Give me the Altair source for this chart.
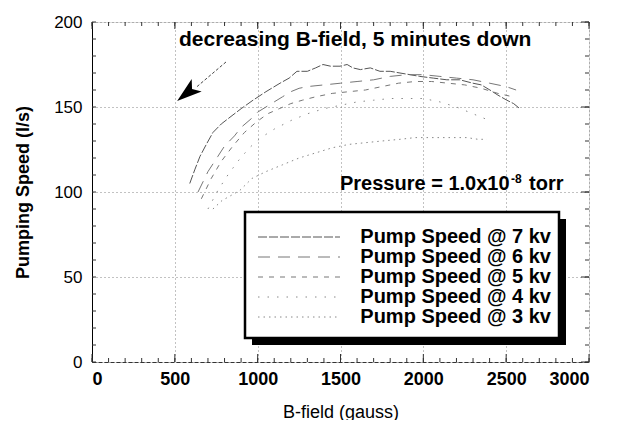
import altair as alt
import pandas as pd

FONT = "Liberation Sans"

series_names = ["Pump Speed @ 7 kv", "Pump Speed @ 6 kv", "Pump Speed @ 5 kv",
                "Pump Speed @ 4 kv", "Pump Speed @ 3 kv"]

B7 = [590, 620, 652, 690, 730, 780, 833, 900, 972, 1050, 1135, 1190, 1237, 1300, 1350, 1394,
      1440, 1497, 1540, 1575, 1620, 1680, 1738, 1800, 1859, 1920, 1979, 2060, 2142, 2220,
      2299, 2350, 2402, 2450, 2504, 2545, 2583]
S7 = [105, 113, 121, 128, 135, 140, 144, 149, 154, 159, 164, 167, 171, 171, 173, 175,
      174, 174, 175, 173, 172, 173, 171, 171, 170, 169, 168, 167, 166, 166,
      164, 163, 160, 157, 154, 152, 149]

B6 = [640, 700, 760, 800, 860, 900, 960, 1000, 1050, 1100, 1150, 1200, 1250, 1300, 1400,
      1500, 1600, 1700, 1800, 1900, 2000, 2100, 2200, 2300, 2400, 2500, 2560]
S6 = [100, 112, 121, 127, 133, 138, 143, 147, 150, 153, 156, 159, 161, 162, 163,
      164, 165, 166, 168, 169, 169, 168, 167, 166, 164, 162, 160]

B5 = [660, 720, 780, 850, 920, 990, 1060, 1130, 1200, 1270, 1350, 1450, 1550, 1650, 1750,
      1850, 1950, 2050, 2150, 2250, 2350, 2450, 2540]
S5 = [96, 108, 118, 127, 135, 141, 146, 149, 152, 154, 156, 158, 159, 160, 162,
      164, 165, 165, 164, 163, 161, 158, 156]

B4 = [700, 760, 820, 880, 950, 1020, 1100, 1200, 1300, 1400, 1500, 1600, 1700, 1800, 1900,
      2000, 2100, 2200, 2300, 2400]
S4 = [90, 101, 110, 118, 126, 132, 137, 142, 146, 149, 151, 153, 154, 155, 155,
      155, 153, 150, 146, 142]

B3 = [730, 785, 840, 893, 966, 1050, 1150, 1250, 1350, 1450, 1550, 1650, 1750, 1860, 1950,
      2020, 2100, 2200, 2263, 2330, 2384]
S3 = [90, 95, 98, 101, 108, 112, 116, 120, 123, 126, 128, 129, 130, 131, 132,
      132, 132, 132, 132, 131, 131]

x_major = [0, 500, 1000, 1500, 2000, 2500, 3000]
y_major = [0, 50, 100, 150, 200]
x_minor = list(range(0, 3001, 100))
y_minor = list(range(0, 201, 10))

arrow_B = [809, 634]
arrow_S = [176.5, 162]
arrow_head_B = [576]
arrow_head_S = [158.4]

dashes = [[9, 2], [12, 8], [5, 6], [1.5, 8], [1.5, 4]]
colors = ["#555555", "#777777", "#777777", "#888888", "#888888"]

rows = []
for name, bs, ss in zip(series_names, [B7, B6, B5, B4, B3], [S7, S6, S5, S4, S3]):
    for i, (b, s) in enumerate(zip(bs, ss)):
        rows.append({"series": name, "B": b, "S": s, "order": i})
df = pd.DataFrame(rows)

W, H = 497, 340

xscale = alt.Scale(domain=[0, 3000], nice=False, zero=False)
yscale = alt.Scale(domain=[0, 200], nice=False, zero=False)
dash_scale = alt.Scale(domain=series_names, range=dashes)
color_scale = alt.Scale(domain=series_names, range=colors)

xaxis = alt.Axis(values=x_major, format="d", ticks=False, grid=True, gridDash=[1, 3],
                 gridColor="#666", gridOpacity=0.8, labelFont=FONT, labelFontSize=18,
                 labelFontWeight="bold", labelColor="black", labelPadding=8,
                 domainColor="#333", domainDash=[4, 2],
                 title="B-field (gauss)", titleFont=FONT, titleFontSize=18,
                 titleFontWeight="normal", titleColor="black", titleY=50,
                 titleBaseline="middle")
yaxis = alt.Axis(values=y_major, format="d", ticks=False, grid=True, gridDash=[1, 3],
                 gridColor="#666", gridOpacity=0.8, labelFont=FONT, labelFontSize=17,
                 labelFontWeight="normal", labelColor="black", labelPadding=10,
                 domainColor="black",
                 title="Pumping Speed (l/s)", titleFont=FONT, titleFontSize=18,
                 titleFontWeight="bold", titleColor="black", titleX=-69, titleY=170,
                 titleAngle=270, titleAlign="center", titleBaseline="middle")

X = alt.X("B:Q", scale=xscale, axis=xaxis)
Y = alt.Y("S:Q", scale=yscale, axis=yaxis)
Yn = alt.Y("S:Q", scale=yscale, axis=None)

lines = alt.Chart(df).mark_line(strokeWidth=1).encode(
    x=X, y=Y,
    strokeDash=alt.StrokeDash("series:N", scale=dash_scale, legend=None),
    color=alt.Color("series:N", scale=color_scale, legend=None),
    order="order:Q",
)

xm = pd.DataFrame({"B": x_minor})
ym = pd.DataFrame({"S": y_minor})
xM = pd.DataFrame({"B": x_major})
yM = pd.DataFrame({"S": y_major})

tick_color = "#333"
t_bottom = alt.Chart(xm).mark_rule(color=tick_color).encode(x=X, y=alt.value(H), y2=alt.value(H - 4))
t_bottom_M = alt.Chart(xM).mark_rule(color=tick_color).encode(x=X, y=alt.value(H), y2=alt.value(H - 8))
t_top = alt.Chart(xm).mark_rule(color=tick_color).encode(x=X, y=alt.value(0), y2=alt.value(4))
t_top_M = alt.Chart(xM).mark_rule(color=tick_color).encode(x=X, y=alt.value(0), y2=alt.value(7))
t_left = alt.Chart(ym).mark_rule(color=tick_color).encode(y=Yn, x=alt.value(0), x2=alt.value(4))
t_right = alt.Chart(ym).mark_rule(color=tick_color).encode(y=Yn, x=alt.value(W), x2=alt.value(W - 4))
t_right_M = alt.Chart(yM).mark_rule(color=tick_color).encode(y=Yn, x=alt.value(W), x2=alt.value(W - 8))

one = pd.DataFrame({"a": [0]})
shadow = alt.Chart(one).mark_rect(color="black").encode(
    x=alt.value(160), x2=alt.value(474), y=alt.value(197), y2=alt.value(323))
box = alt.Chart(one).mark_rect(fill="white", stroke="black", strokeWidth=2.5).encode(
    x=alt.value(153), x2=alt.value(467), y=alt.value(190), y2=alt.value(316))

leg_df = pd.DataFrame({"series": series_names})
leg_y = alt.Y("series:N", sort=series_names,
              scale=alt.Scale(type="point", domain=series_names, range=[215, 295], padding=0),
              axis=None)
leg_lines = alt.Chart(leg_df).mark_rule(strokeWidth=1).encode(
    x=alt.value(166), x2=alt.value(248), y=leg_y,
    strokeDash=alt.StrokeDash("series:N", scale=dash_scale, legend=None),
    color=alt.Color("series:N", scale=color_scale, legend=None),
)
leg_text = alt.Chart(leg_df).mark_text(align="right", baseline="middle", font=FONT,
                                       fontSize=20, fontWeight="bold", color="black").encode(
    x=alt.value(459), y=leg_y, text="series:N")

arrow_df = pd.DataFrame({"B": arrow_B, "S": arrow_S})
arrow_line = alt.Chart(arrow_df).mark_line(color="#444", strokeWidth=1, strokeDash=[3, 2]).encode(
    x=X, y=Yn)
head_df = pd.DataFrame({"B": arrow_head_B, "S": arrow_head_S})
arrow_head = alt.Chart(head_df).mark_point(
    shape="M0,-1L0.6,0.9L0,0.45L-0.6,0.9Z", filled=True, color="black", opacity=1,
    size=700, angle=231).encode(x=X, y=Yn)

txt_dec = alt.Chart(one).mark_text(text="decreasing B-field, 5 minutes down", align="left",
                                   baseline="alphabetic", font=FONT, fontSize=21,
                                   fontWeight="bold", color="black").encode(
    x=alt.value(87), y=alt.value(24))
txt_p1 = alt.Chart(one).mark_text(text="Pressure = 1.0x10", align="left", baseline="alphabetic",
                                  font=FONT, fontSize=20, fontWeight="bold", color="black").encode(
    x=alt.value(248), y=alt.value(168))
txt_p2 = alt.Chart(one).mark_text(text="-8", align="left", baseline="alphabetic",
                                  font=FONT, fontSize=12, fontWeight="bold", color="black").encode(
    x=alt.value(419), y=alt.value(161))
txt_p3 = alt.Chart(one).mark_text(text="torr", align="left", baseline="alphabetic",
                                  font=FONT, fontSize=20, fontWeight="bold", color="black").encode(
    x=alt.value(437), y=alt.value(168))

chart = alt.layer(
    lines, t_bottom, t_bottom_M, t_top, t_top_M, t_left, t_right, t_right_M,
    arrow_line, arrow_head, txt_dec, txt_p1, txt_p2, txt_p3,
    shadow, box, leg_lines, leg_text,
).resolve_scale(y="independent").properties(
    width=W, height=H,
    autosize=alt.AutoSizeParams(type="none"),
    padding={"left": 84, "top": 14, "right": 25, "bottom": 58},
).configure_view(stroke="#777", strokeDash=[2, 2]).configure(background="white")

chart.save("out.html", embed_options={"renderer": "svg", "actions": False})
